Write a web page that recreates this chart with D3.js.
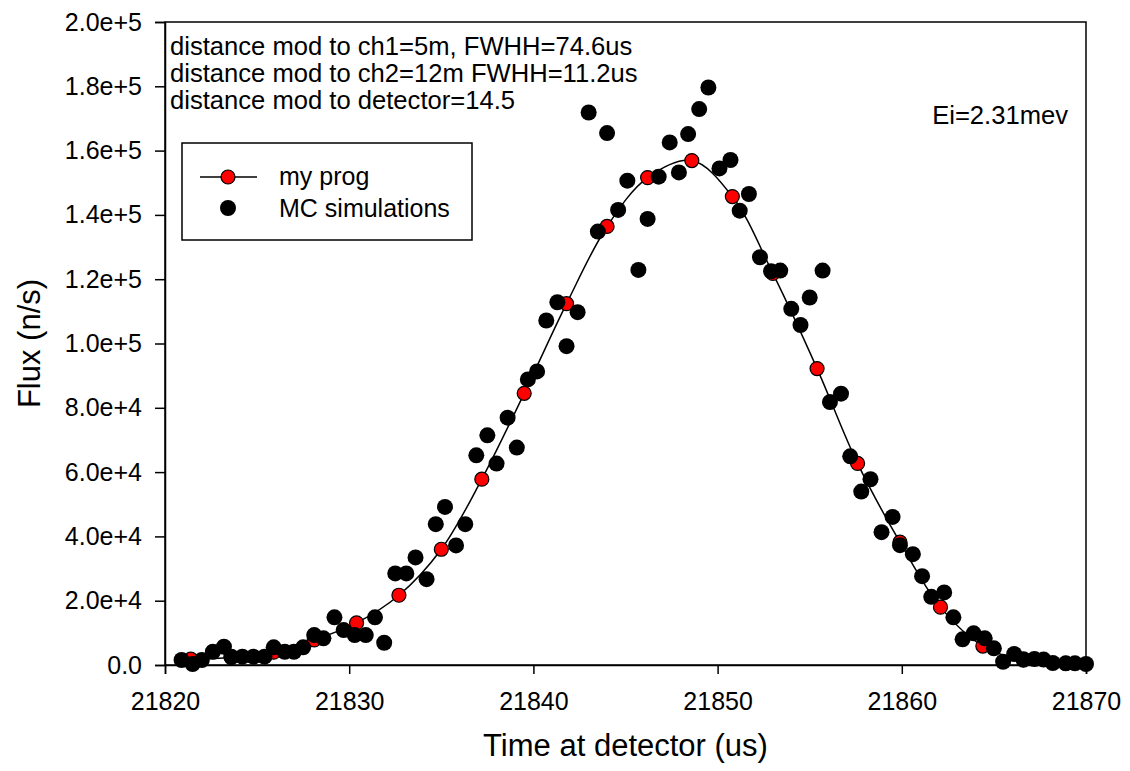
<!DOCTYPE html>
<html>
  <head>
    <meta charset="utf-8">
    <title>Flux vs time at detector</title>
<style>
body { margin: 0; background: #fff; }
svg { font-family: "Liberation Sans", Arial, sans-serif; }
.axis path, .axis line { stroke: #000; stroke-width: 1.5px; }
.axis text { font-size: 25px; fill: #000; }
</style>
    <script src="https://d3js.org/d3.v7.min.js"></script>
  </head>
  <body>
    <script type="text/javascript">

    // my prog (red markers + line)
    var progX = [21821.4, 21823.6, 21825.9, 21828.1, 21830.4, 21832.7, 21835.0, 21837.2,
                 21839.5, 21841.8, 21844.0, 21846.2, 21848.6, 21850.8, 21853.0, 21855.4,
                 21857.6, 21859.9, 21862.1, 21864.4, 21866.6, 21868.9];
    var progY = [1800, 2300, 4000, 7800, 13100, 21700, 36000, 57800,
                 84500, 112400, 136400, 151600, 156900, 145700, 121800, 92200,
                 62700, 38200, 18000, 5900, 1500, 500];

    // MC simulations (black dots)
    var mcX = [21820.9, 21821.5, 21822.0, 21822.6, 21823.2, 21823.6, 21824.2, 21824.8, 21825.4, 21825.9,
               21826.5, 21827.0, 21827.5, 21828.1, 21828.6, 21829.2, 21829.7, 21830.3, 21830.9, 21831.4,
               21831.9, 21832.5, 21833.1, 21833.6, 21834.2, 21834.7, 21835.2, 21835.8, 21836.3, 21836.9,
               21837.5, 21838.0, 21838.6, 21839.1, 21839.7, 21840.2, 21840.7, 21841.3, 21841.8, 21842.4,
               21843.0, 21843.5, 21844.0, 21844.6, 21845.1, 21845.7, 21846.2, 21846.8, 21847.4, 21847.9,
               21848.4, 21849.0, 21849.5, 21850.1, 21850.7, 21851.2, 21851.7, 21852.3, 21852.9, 21853.4,
               21854.0, 21854.5, 21855.0, 21855.7, 21856.1, 21856.7, 21857.2, 21857.8, 21858.3, 21858.9,
               21859.5, 21859.9, 21860.6, 21861.1, 21861.6, 21862.3, 21862.8, 21863.3, 21863.9, 21864.5,
               21865.0, 21865.5, 21866.1, 21866.6, 21867.2, 21867.7, 21868.2, 21868.9, 21869.4, 21870.0];
    var mcY = [1550, 300, 1550, 4130, 5680, 2580, 2580, 2580, 2580, 5500,
               4130, 4130, 5500, 9320, 8290, 14820, 10870, 9320, 9320, 14820,
               6930, 28480, 28480, 33450, 26710, 43790, 49170, 37180, 43790, 65230,
               71440, 62650, 76940, 67620, 88830, 91320, 107160, 112840, 99180, 109740,
               171860, 134800, 165460, 141540, 150640, 122900, 138750, 151880, 162540, 153220,
               165150, 172910, 179620, 154460, 157070, 141320, 146510, 126820, 122470, 122690,
               110790, 105760, 114300, 122690, 81780, 84390, 64920, 53950, 57770, 41310,
               46060, 37270, 34480, 27640, 21210, 22580, 14820, 7980, 9850, 8290,
               5190, 1020, 3420, 1800, 1860, 1700, 620, 530, 530, 310];

    var xTicks = [21820, 21830, 21840, 21850, 21860, 21870];
    var yTicks = [0, 20000, 40000, 60000, 80000, 100000, 120000, 140000, 160000, 180000, 200000];

    var notes = ["distance mod to ch1=5m, FWHH=74.6us",
                 "distance mod to ch2=12m FWHH=11.2us",
                 "distance mod to detector=14.5"];
    var legendNames = ["my prog", "MC simulations"];

    var W = 1130, H = 771;
    var plot = {left: 165, right: 1086, top: 22, bottom: 665};

    var x = d3.scaleLinear().domain([21820, 21870]).range([plot.left, plot.right]);
    var y = d3.scaleLinear().domain([0, 200000]).range([plot.bottom, plot.top]);

    var svg = d3.select("body").append("svg")
        .attr("width", W)
        .attr("height", H);

    // frame
    svg.append("rect")
        .attr("x", plot.left).attr("y", plot.top)
        .attr("width", plot.right - plot.left)
        .attr("height", plot.bottom - plot.top)
        .attr("fill", "none").attr("stroke", "#000").attr("stroke-width", 1.5);

    var fmt = d3.format(".1e");
    svg.append("g")
        .attr("class", "axis")
        .attr("transform", "translate(" + plot.left + ",0)")
        .call(d3.axisLeft(y).tickValues(yTicks).tickSize(10).tickPadding(13)
            .tickFormat(function(d) { return d === 0 ? "0.0" : fmt(d); }));

    svg.append("g")
        .attr("class", "axis")
        .attr("transform", "translate(0," + plot.bottom + ")")
        .call(d3.axisBottom(x).tickValues(xTicks).tickSize(9).tickPadding(18)
            .tickFormat(d3.format("d")));

    // axis titles
    svg.append("text")
        .attr("x", (plot.left + plot.right) / 2)
        .attr("y", 756)
        .attr("text-anchor", "middle")
        .style("font-size", "31px")
        .text("Time at detector (us)");

    svg.append("text")
        .attr("transform", "translate(40," + ((plot.top + plot.bottom) / 2) + ") rotate(-90)")
        .attr("text-anchor", "middle")
        .style("font-size", "31px")
        .text("Flux (n/s)");

    // line through my prog
    var line = d3.line()
        .x(function(d, i) { return x(progX[i]); })
        .y(function(d, i) { return y(progY[i]); })
        .curve(d3.curveCatmullRom);

    svg.append("path")
        .datum(progX)
        .attr("d", line)
        .attr("fill", "none")
        .attr("stroke", "#000")
        .attr("stroke-width", 1.5);

    svg.selectAll(".prog")
        .data(progX)
      .enter().append("circle")
        .attr("class", "prog")
        .attr("cx", function(d) { return x(d); })
        .attr("cy", function(d, i) { return y(progY[i]); })
        .attr("r", 7)
        .attr("fill", "#ff0000")
        .attr("stroke", "#000")
        .attr("stroke-width", 1.2);

    svg.selectAll(".mc")
        .data(mcX)
      .enter().append("circle")
        .attr("class", "mc")
        .attr("cx", function(d) { return x(d); })
        .attr("cy", function(d, i) { return y(mcY[i]); })
        .attr("r", 8)
        .attr("fill", "#000");

    // notes
    svg.selectAll(".note")
        .data(notes)
      .enter().append("text")
        .attr("class", "note")
        .attr("x", 170)
        .attr("y", function(d, i) { return 55 + i * 27; })
        .style("font-size", "25.6px")
        .text(function(d) { return d; });

    svg.append("text")
        .attr("x", 1068)
        .attr("y", 124)
        .attr("text-anchor", "end")
        .style("font-size", "25.6px")
        .text("Ei=2.31mev");

    // legend
    var lg = svg.append("g");
    lg.append("rect")
        .attr("x", 182).attr("y", 143)
        .attr("width", 290).attr("height", 97)
        .attr("fill", "#fff").attr("stroke", "#000").attr("stroke-width", 1.5);
    lg.append("line")
        .attr("x1", 200).attr("x2", 257)
        .attr("y1", 177).attr("y2", 177)
        .attr("stroke", "#000").attr("stroke-width", 1.5);
    lg.append("circle")
        .attr("cx", 228).attr("cy", 177).attr("r", 7)
        .attr("fill", "#ff0000").attr("stroke", "#000").attr("stroke-width", 1.2);
    lg.append("circle")
        .attr("cx", 228).attr("cy", 208).attr("r", 8)
        .attr("fill", "#000");
    lg.selectAll(".lgtext")
        .data(legendNames)
      .enter().append("text")
        .attr("x", 279)
        .attr("y", function(d, i) { return 185 + i * 32; })
        .style("font-size", "25px")
        .text(function(d) { return d; });

    </script>
  </body>
</html>
